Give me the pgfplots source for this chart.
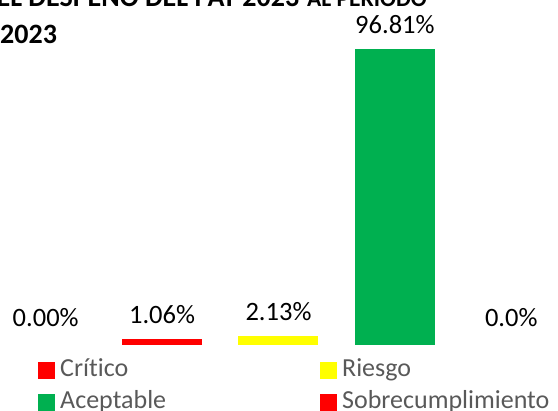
\documentclass[border=0pt]{standalone}
\usepackage{pgfplots}
\pgfplotsset{compat=1.18}
\usepackage{fontspec}
\setmainfont{Carlito}[Ligatures=NoCommon]
\definecolor{cred}{RGB}{255,0,0}
\definecolor{cyellow}{RGB}{255,255,0}
\definecolor{cgreen}{RGB}{0,176,80}
\definecolor{ctext}{RGB}{89,89,89}
\begin{document}
\begin{tikzpicture}[x=1pt,y=1pt]
\useasboundingbox (0,0) rectangle (558,411);
\node[anchor=base east,inner sep=0pt,font=\bfseries] at (427,404) {\fontsize{28}{32}\selectfont EL DESPEÑO DEL PAT 2023\hspace{8pt}\fontsize{23.5}{26}\selectfont AL PERIODO};
\node[anchor=base west,inner sep=0pt,font=\bfseries] at (0,367.5) {\fontsize{28}{32}\selectfont 2023};
\begin{axis}[
  at={(-12.5pt,67.5pt)}, anchor=south west,
  scale only axis, width=582pt, height=302.7pt,
  xmin=-0.5, xmax=4.5, ymin=0, ymax=100,
  hide axis, clip=false,
  ybar, bar width=77pt, bar shift=0pt,
  point meta=explicit symbolic,
  nodes near coords,
  nodes near coords style={font=\fontsize{26.5}{30}\selectfont, anchor=base, yshift=17pt, inner sep=0pt, text=black},
  legend columns=2,
  legend style={at={(0.0868,-0.1405)}, anchor=west, draw=none, fill=none, inner sep=0pt,
    font=\fontsize{26}{30}\selectfont, text=ctext,
    nodes={inner sep=0pt, text height=18pt, text depth=6pt},
    column sep=5pt, row sep=8pt,
    /tikz/column 2/.style={column sep=154pt}},
  legend cell align=left,
  legend image code/.code={\fill[#1, draw=none] (0pt,-8.5pt) rectangle (17pt,8.5pt);},
]
\addplot[fill=cred, draw=cred, line width=3pt] coordinates {(1,1.06) [1.06\%]};
\addlegendentry{Crítico}
\addplot[fill=cyellow, draw=cyellow, line width=3pt] coordinates {(2,2.13) [2.13\%]};
\addlegendentry{Riesgo}
\addplot[fill=cgreen, draw=cgreen, line width=3pt] coordinates {(3,96.81) [96.81\%]};
\addlegendentry{Aceptable}
\addlegendimage{fill=cred, draw=none}
\addlegendentry{Sobrecumplimiento}
\addplot[fill=none, draw=none, forget plot] coordinates {(4,0) [0.0\%]};
\addplot[fill=none, draw=none, forget plot] coordinates {(0,0) [0.00\%]};
\end{axis}
\end{tikzpicture}
\end{document}
